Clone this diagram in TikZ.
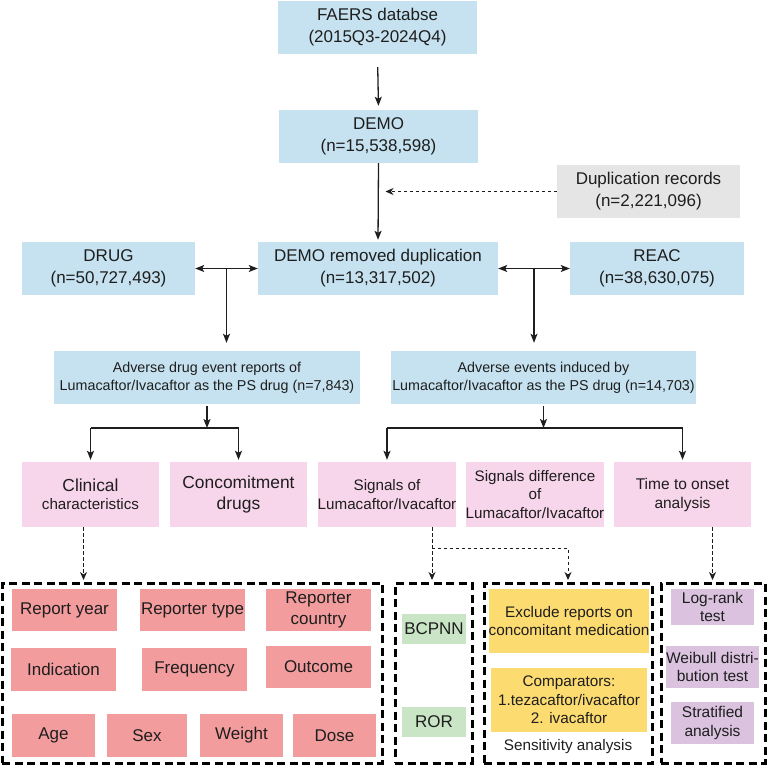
\documentclass[tikz,border=0pt]{standalone}
\usepackage{fontspec}
\setmainfont{Liberation Sans}
\usetikzlibrary{arrows.meta,calc}
\definecolor{cblue}{RGB}{198,226,240}
\definecolor{cgray}{RGB}{229,229,229}
\definecolor{cpink}{RGB}{247,213,234}
\definecolor{cred}{RGB}{242,156,157}
\definecolor{cgreen}{RGB}{201,229,197}
\definecolor{cyellow}{RGB}{252,219,112}
\definecolor{cpurple}{RGB}{219,195,224}
\definecolor{ctext}{RGB}{30,30,30}
\newcommand\mybox[7]{\node[#2, minimum width={(#5-#3)*1pt}, minimum height={(#6-#4)*1pt}] (#1) at ({(#3+#5)/2},{(#4+#6)/2}) {#7};}
\tikzset{
  box/.style={rectangle, inner sep=0pt, align=center, text=ctext},
  bluebox/.style={box, fill=cblue, font=\fontsize{17}{22}\selectfont},
  blueboxs/.style={box, fill=cblue, font=\fontsize{14.3}{17.7}\selectfont},
  graybox/.style={box, fill=cgray, font=\fontsize{17}{22}\selectfont},
  pinkbox/.style={box, fill=cpink, font=\fontsize{15.2}{18.3}\selectfont},
  redbox/.style={box, fill=cred, font=\fontsize{17}{20.7}\selectfont},
  greenbox/.style={box, fill=cgreen, font=\fontsize{17}{20}\selectfont},
  yellowbox/.style={box, fill=cyellow, font=\fontsize{15.3}{18}\selectfont},
  purplebox/.style={box, fill=cpurple, font=\fontsize{15.5}{18.3}\selectfont},
  dbox/.style={rectangle, inner sep=0pt, draw=black, line width=3pt, dash pattern=on 8pt off 4.5pt},
  arr/.style={draw=ctext, line width=1.3pt, -{Stealth[length=9pt,width=7pt,inset=2pt]}},
  arrs/.style={draw=ctext, line width=1.3pt, {Stealth[length=9pt,width=7pt,inset=2pt]}-{Stealth[length=9pt,width=7pt,inset=2pt]}},
  plain/.style={draw=ctext, line width=1.3pt},
  dotarr/.style={draw=ctext, line width=1pt, dash pattern=on 3.3pt off 2.7pt, -{Stealth[length=8pt,width=7pt,inset=2.5pt]}},
}
\begin{document}
\begin{tikzpicture}[x=1pt,y=-1pt]
\useasboundingbox (0,0) rectangle (767,765);
% top blue boxes
\mybox{faers}{bluebox}{278}{1}{477}{54}{FAERS databse\\(2015Q3-2024Q4)}
\mybox{demo}{bluebox}{279}{110}{478}{163}{DEMO\\(n=15,538,598)}
\mybox{dup}{graybox}{557}{165}{740}{218}{Duplication records\\(n=2,221,096)}
\mybox{demorem}{bluebox}{258}{242}{498}{295}{DEMO removed duplication\\(n=13,317,502)}
\mybox{drug}{bluebox}{22}{242}{195}{295}{DRUG\\(n=50,727,493)}
\mybox{reac}{bluebox}{570}{242}{744}{295}{REAC\\(n=38,630,075)}
\mybox{adv1}{blueboxs}{54}{351}{360}{404}{Adverse drug event reports of\\Lumacaftor/Ivacaftor as the PS drug (n=7,843)}
\mybox{adv2}{blueboxs}{391}{351}{696}{404}{Adverse events induced by\\Lumacaftor/Ivacaftor as the PS drug (n=14,703)}
% pink boxes
\mybox{clin}{pinkbox}{22}{462}{159}{527}{{\fontsize{17.4}{18}\selectfont Clinical}\\characteristics}
\mybox{conc}{pinkbox, font=\fontsize{17.4}{21}\selectfont}{170}{462}{307}{527}{Concomitment\\drugs}
\mybox{sig}{pinkbox, font=\fontsize{15.2}{19}\selectfont}{318}{462}{456}{527}{Signals of\\Lumacaftor/Ivacaftor}
\mybox{sigd}{pinkbox}{466}{462}{604}{527}{Signals difference\\of\\Lumacaftor/Ivacaftor}
\mybox{tto}{pinkbox, font=\fontsize{15.5}{19}\selectfont}{614}{462}{751}{527}{Time to onset\\analysis}
% dashed groups
\mybox{grpA}{dbox}{2}{583}{382}{763}{}
\mybox{grpB}{dbox}{395}{583}{472}{763}{}
\mybox{grpC}{dbox}{484}{583}{652}{763}{}
\mybox{grpD}{dbox}{661}{583}{765}{763}{}
% red boxes
\mybox{ry}{redbox}{12}{589}{117}{631}{Report year}
\mybox{rt}{redbox}{140}{589}{245}{631}{Reporter type}
\mybox{rc}{redbox}{266}{589}{371}{631}{Reporter\\country}
\mybox{ind}{redbox}{11}{648}{116}{691}{Indication}
\mybox{freq}{redbox}{142}{648}{247}{691}{Frequency}
\mybox{outc}{redbox}{266}{646}{371}{688}{Outcome}
\mybox{age}{redbox}{12}{714}{95}{757}{Age}
\mybox{sex}{redbox}{107}{714}{187}{757}{Sex}
\mybox{wt}{redbox}{200}{714}{283}{757}{Weight}
\mybox{dose}{redbox}{293}{714}{376}{757}{Dose}
% green
\mybox{bcpnn}{greenbox}{402}{614}{466}{644}{BCPNN}
\mybox{ror}{greenbox}{402}{707}{466}{737}{ROR}
% yellow
\mybox{excl}{yellowbox}{491}{589}{647}{653}{Exclude reports on\\concomitant medication}
\mybox{comp}{yellowbox, font=\fontsize{15.3}{18.3}\selectfont}{491}{668}{647}{732}{Comparators:\\1.tezacaftor/ivacaftor\\2. ivacaftor}
\node[font=\fontsize{15.3}{18}\selectfont, text=ctext, inner sep=0pt] (sens) at (568,747) {Sensitivity analysis};
% purple
\mybox{lr}{purplebox}{671}{589}{754}{625}{Log-rank\\test}
\mybox{wb}{purplebox}{671}{646}{754}{688}{Weibull distri-\\bution test}
\mybox{strat}{purplebox}{671}{702}{754}{744}{Stratified\\analysis}
% connectors top
\draw[arr, shorten <=13pt, shorten >=4pt] (faers.south) -- (demo.north);
\draw[arr, shorten >=2pt] (demo.south) -- (demorem.north);
\draw[dotarr] (dup.west) -- ([xshift=7pt]demo.south |- dup.west);
\draw[arrs] (drug.east) -- (demorem.west);
\draw[arrs] (demorem.east) -- (reac.west);
\coordinate (m1) at ($(drug.east)!0.5!(demorem.west)$);
\coordinate (m2) at ($(demorem.east)!0.5!(reac.west)$);
\draw[arr, shorten >=8pt] (m1) -- (m1 |- adv1.north);
\draw[arr, shorten >=8pt] (m2) -- (m2 |- adv2.north);
% branches
\coordinate (j1) at (adv1.south |- 0,428);
\coordinate (j2) at (adv2.south |- 0,428);
\draw[arr, shorten <=2pt] (adv1.south) -- (j1);
\draw[arr, shorten <=2pt] (adv2.south) -- (j2);
\draw[plain] (clin.north |- j1) -- (conc.north |- j1);
\draw[plain] (sig.north |- j2) -- (tto.north |- j2);
\draw[arr, shorten >=2pt] (clin.north |- j1) -- (clin.north);
\draw[arr, shorten >=2pt] (conc.north |- j1) -- (conc.north);
\draw[arr, shorten >=2pt] (sig.north |- j2) -- (sig.north);
\draw[arr, shorten >=2pt] (tto.north |- j2) -- (tto.north);
% dotted lower
\coordinate (c0) at ([xshift=-7pt]clin.south);
\draw[dotarr, shorten >=1.5pt] (c0) -- (c0 |- grpA.north);
\coordinate (s0) at ([xshift=45pt]sig.south);
\coordinate (s1) at (s0 |- 0,548);
\draw[dotarr, shorten >=1.5pt] (s0) -- (s0 |- grpB.north);
\draw[dotarr, shorten >=1.5pt] (s1) -- (s1 -| grpC.north) -- (grpC.north);
\coordinate (t0) at ([xshift=30pt]tto.south);
\draw[dotarr, shorten >=1.5pt] (t0) -- (t0 |- grpD.north);
\end{tikzpicture}
\end{document}
